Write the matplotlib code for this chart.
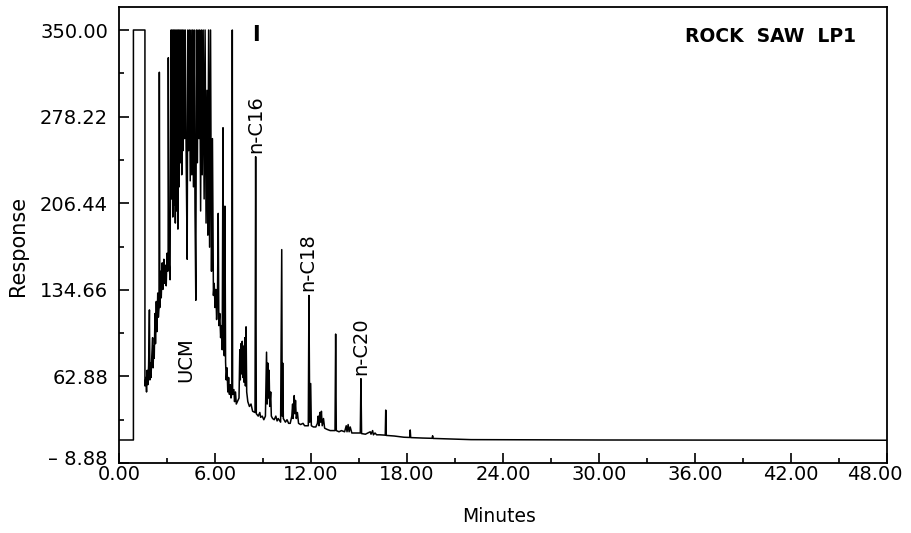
import numpy as np
import matplotlib.pyplot as plt
from matplotlib.ticker import FixedLocator
from matplotlib.transforms import ScaledTranslation

# chromatogram trace (minutes, response)
solvent_t = [0.0, 0.9, 0.9, 1.62, 1.62]
solvent_v = [10.2, 10.2, 350, 350, 55]

early_t = [1.68, 1.72, 1.76, 1.80, 1.85, 1.90, 1.93, 1.97, 2.00, 2.05, 2.10, 2.13,
           2.17, 2.20, 2.25, 2.28, 2.33, 2.37, 2.42, 2.46, 2.50, 2.52, 2.55, 2.60,
           2.64, 2.70, 2.74, 2.80, 2.84, 2.90, 2.95, 3.00, 3.04, 3.07, 3.08, 3.12,
           3.19]
early_v = [62, 50, 68, 56, 72, 118, 60, 74, 62, 80, 95, 70,
           88, 78, 115, 90, 125, 100, 132, 112, 120, 315, 120, 150,
           128, 157, 135, 160, 140, 155, 138, 165, 150, 160, 327, 160,
           143]

ucm_t = [3.25, 3.28, 3.32, 3.36, 3.40, 3.44, 3.48, 3.52, 3.56, 3.60, 3.64, 3.68,
         3.72, 3.76, 3.80, 3.84, 3.88, 3.92, 3.96, 4.00, 4.05, 4.10, 4.14, 4.20,
         4.26, 4.30, 4.35, 4.40, 4.45, 4.50, 4.55, 4.60, 4.65, 4.70, 4.75, 4.80,
         4.84, 4.90, 4.94, 5.00, 5.04, 5.10, 5.15, 5.20, 5.26, 5.32, 5.38, 5.44,
         5.50, 5.55, 5.60, 5.66, 5.72, 5.78, 5.84, 5.90]
ucm_v = [350, 210, 350, 195, 350, 205, 350, 190, 350, 200, 350, 185,
         350, 220, 350, 240, 350, 230, 350, 250, 350, 260, 350, 240,
         160, 350, 250, 350, 225, 350, 230, 350, 220, 350, 200, 126,
         350, 240, 350, 260, 350, 200, 350, 230, 350, 210, 350, 190,
         300, 180, 350, 170, 350, 150, 260, 130]

flank_t = [5.95, 6.00, 6.05, 6.10, 6.15, 6.20, 6.24, 6.30, 6.35, 6.40, 6.45, 6.50,
           6.54, 6.58, 6.62, 6.66, 6.70, 6.75, 6.80, 6.85, 6.90, 6.95, 7.00, 7.06,
           7.08, 7.10, 7.18, 7.22, 7.28, 7.33, 7.40, 7.50, 7.55, 7.58, 7.62, 7.65,
           7.70, 7.74, 7.78, 7.82, 7.86, 7.90, 7.94, 7.98, 8.05, 8.15, 8.25, 8.35,
           8.50, 8.54, 8.58, 8.70, 8.80, 8.85, 8.95, 9.05]
flank_v = [140, 120, 135, 110, 125, 198, 105, 115, 95, 105, 85, 269,
           90, 80, 204, 75, 60, 70, 50, 62, 48, 56, 45, 50,
           350, 48, 52, 42, 50, 40, 42, 45, 85, 60, 90, 65,
           92, 62, 88, 58, 95, 55, 104, 50, 42, 38, 40, 34,
           33, 245, 32, 30, 33, 29, 30, 27]

tail_t = [9.15, 9.22, 9.26, 9.30, 9.34, 9.38, 9.42, 9.48, 9.52, 9.60, 9.70, 9.80,
          9.88, 9.95, 10.10, 10.17, 10.20, 10.23, 10.27, 10.40, 10.50, 10.60, 10.70,
          10.80, 10.85, 10.88, 10.95, 10.99, 11.03, 11.08, 11.15, 11.22, 11.35,
          11.50, 11.60, 11.83, 11.87, 11.92, 11.98, 12.02, 12.15, 12.30,
          12.40, 12.45, 12.50, 12.55, 12.60, 12.65, 12.70, 12.78, 12.85, 13.00,
          13.20, 13.50, 13.54, 13.58, 13.75, 13.90, 14.10, 14.20, 14.25, 14.32,
          14.38, 14.45, 14.55, 14.80, 15.08, 15.12, 15.16, 15.40, 15.70, 15.75,
          15.85, 15.90, 16.00, 16.10, 16.30, 16.64, 16.67, 16.70, 17.20, 17.80,
          18.17, 18.20, 18.23, 19.00, 19.57, 19.60, 19.63, 22.0, 30.0, 48.0]
tail_v = [30, 83, 40, 74, 45, 68, 38, 50, 30, 28, 27, 30,
          26, 28, 25, 168, 30, 74, 28, 25, 27, 24, 24,
          30, 40, 28, 47, 32, 43, 28, 33, 24, 23,
          24, 22, 22, 130, 25, 57, 22, 21, 21,
          24, 30, 22, 33, 25, 34, 22, 28, 20, 19,
          18, 18, 98, 18, 17, 18, 17, 22, 17, 23,
          17, 21, 16, 16, 16, 61, 15.5, 15, 17, 15,
          18, 14.5, 16, 14.5, 14.5, 14.2, 35, 14, 13.5, 12.5,
          12.3, 18.5, 12.2, 11.8, 11.6, 13.7, 11.5, 10.5, 10.2, 10.0]

# axis ticks
y_ticks = [350.00, 278.22, 206.44, 134.66, 62.88, -8.88]
y_ticklabels = ["350.00", "278.22", "206.44", "134.66", "62.88", "\u2013 8.88"]
x_ticks = [0, 6, 12, 18, 24, 30, 36, 42, 48]

# peak labels
peak_names = ["n-C16", "n-C18", "n-C20"]
peak_t = [8.54, 11.78, 15.08]
peak_v = [245, 130, 61]

t = np.concatenate([solvent_t, early_t, ucm_t, flank_t, tail_t])
v = np.concatenate([solvent_v, early_v, ucm_v, flank_v, tail_v])

fig = plt.figure(figsize=(9.12, 5.33), dpi=100)
ax = fig.add_axes([0.1305, 0.1313, 0.8421, 0.8561])

ax.plot(t, v, color="black", linewidth=1.1)

ax.set_xlim(0, 48)
ax.set_ylim(-8.88, 369.3)

ax.set_xticks(x_ticks)
ax.set_xticklabels([f"{x:.2f}" for x in x_ticks])
ax.xaxis.set_minor_locator(FixedLocator([3 + 6 * i for i in range(8)]))
ax.set_yticks(y_ticks)
ax.set_yticklabels(y_ticklabels)
ax.yaxis.set_minor_locator(FixedLocator([y - 35.89 for y in y_ticks[:-1]]))

ax.tick_params(which="both", direction="in", labelsize=14, width=1.2)
ax.tick_params(which="major", length=7)
ax.tick_params(which="minor", length=3.5)
ax.tick_params(axis="y", pad=8)
ax.tick_params(axis="x", pad=1.5)
for s in ax.spines.values():
    s.set_linewidth(1.3)

# last x label sits a little left in the original, bottom y label a little up
last = ax.get_xticklabels()[-1]
last.set_transform(last.get_transform() + ScaledTranslation(-0.12, 0, fig.dpi_scale_trans))
low = ax.get_yticklabels()[-1]
low.set_transform(low.get_transform() + ScaledTranslation(0, 0.06, fig.dpi_scale_trans))

ax.set_xlabel("Minutes", fontsize=13.5)
ax.set_ylabel("Response", fontsize=15)
ax.xaxis.set_label_coords(0.495, -0.097)
ax.yaxis.set_label_coords(-0.119, 0.475)

for name, pt, pv in zip(peak_names, peak_t, peak_v):
    ax.annotate(name, (pt, pv), xytext=(0, 3), textcoords="offset points",
                rotation=90, ha="center", va="bottom", fontsize=14)

ax.text(4.16, 76.5, "UCM", rotation=90, ha="center", va="center", fontsize=14)
ax.text(8.56, 346, "I", ha="center", va="center", fontsize=15, fontweight="bold")
ax.text(0.9596, 0.935, "ROCK  SAW  LP1", transform=ax.transAxes,
        ha="right", va="center", fontsize=13.5, fontweight="bold")

fig.savefig("out.png", dpi=100)
